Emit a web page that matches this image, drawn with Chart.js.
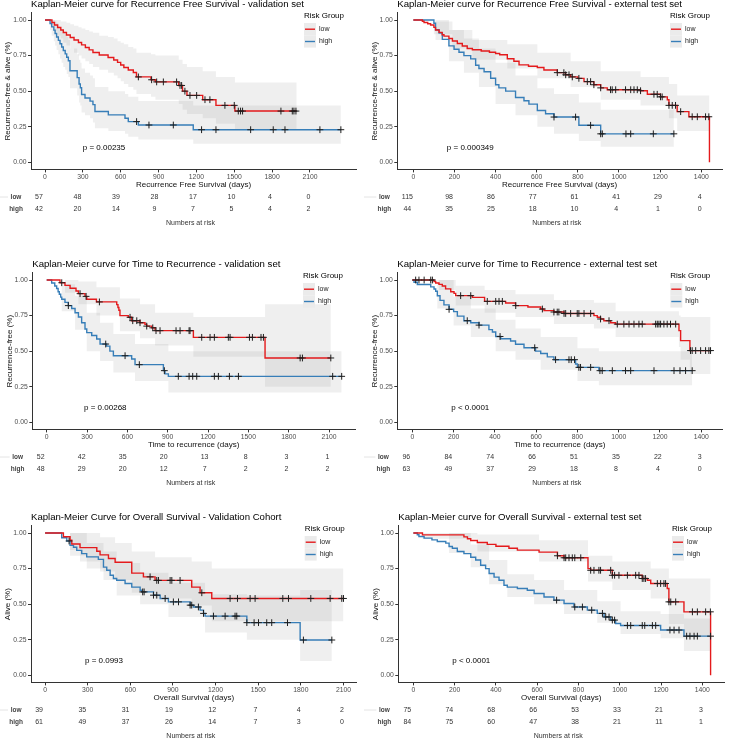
<!DOCTYPE html>
<html><head><meta charset="utf-8">
<script src="https://cdn.jsdelivr.net/npm/chart.js@4.4.1/dist/chart.umd.min.js"></script>
<style>
html,body{margin:0;padding:0;background:#fff;}
body{width:729px;height:740px;position:relative;overflow:hidden;}
canvas{position:absolute;}
</style></head><body>
<script>
// ---------- tick labels ----------
const ticks2100 = [0,300,600,900,1200,1500,1800,2100];
const ticks1400 = [0,200,400,600,800,1000,1200,1400];
const yTicks = [0,0.25,0.5,0.75,1];
const groups = ['low','high'];

// ---------- Panel 1: RFS validation ----------
const p1LowT = [0,55,75,100,125,145,170,200,230,265,290,320,350,380,430,500,545,575,600,625,660,700,725,840,875,1060,1090,1125,1250,1355,1505,1995];
const p1LowS = [1,.982,.965,.947,.93,.912,.895,.877,.86,.842,.825,.807,.79,.772,.754,.737,.719,.702,.684,.666,.649,.631,.60,.58,.565,.54,.50,.47,.44,.40,.36,.36];
const p1LowU = [1,1,1,1,.99,.99,.98,.97,.96,.95,.94,.93,.92,.91,.89,.88,.87,.85,.84,.83,.81,.80,.77,.76,.75,.72,.69,.67,.64,.60,.56,.56];
const p1LowL = [1,.95,.92,.89,.87,.84,.82,.80,.77,.75,.73,.71,.69,.67,.65,.63,.61,.59,.57,.55,.53,.51,.48,.46,.44,.41,.37,.34,.31,.27,.23,.23];
const p1LowC = [740,845,885,938,1043,1070,1083,1109,1149,1202,1268,1307,1426,1500,1532,1550,1566,1870,1960,1973,1989];
const p1HighT = [0,40,53,70,80,92,106,119,132,145,160,172,185,198,255,270,280,290,317,357,380,396,502,634,660,740,1175,2345];
const p1HighS = [1,.976,.952,.929,.905,.881,.857,.833,.81,.786,.762,.738,.714,.643,.595,.55,.524,.476,.452,.43,.405,.357,.333,.31,.286,.262,.229,.229];
const p1HighU = [1,1,1,1,.99,.98,.96,.95,.93,.92,.90,.88,.86,.80,.76,.72,.70,.66,.63,.61,.59,.53,.50,.48,.46,.43,.40,.40];
const p1HighL = [1,.93,.89,.85,.82,.79,.76,.73,.70,.67,.65,.62,.60,.52,.47,.42,.40,.35,.33,.31,.28,.24,.22,.20,.18,.16,.13,.13];
const p1HighC = [726,824,1017,1241,1355,1630,1809,1902,2179,2345];
const p1RiskLow = [57,48,39,28,17,10,4,0];
const p1RiskHigh = [42,20,14,9,7,5,4,2];

// ---------- Panel 2: RFS external ----------
const p2LowT = [0,44,52,70,84,100,108,125,140,149,173,190,214,238,262,287,330,370,400,420,457,489,514,560,603,635,700,740,765,800,830,878,911,943,1105,1138,1202,1235,1243,1283,1340,1440];
const p2LowS = [1,.991,.983,.974,.965,.948,.93,.913,.896,.887,.87,.852,.835,.817,.80,.791,.782,.773,.765,.756,.728,.71,.685,.675,.666,.649,.63,.615,.60,.59,.567,.545,.523,.51,.503,.478,.46,.44,.40,.356,.32,0];
const p2LowBT = [0,100,190,287,457,603,765,911,1105,1243,1283,1440];
const p2LowBU = [1,.99,.93,.86,.83,.77,.71,.64,.60,.55,.47,.47];
const p2LowBL = [1,.90,.80,.72,.66,.59,.53,.44,.40,.31,.22,.22];
const p2LowC = [700,732,741,757,773,805,846,862,878,911,959,967,984,1032,1057,1073,1089,1105,1170,1186,1202,1210,1243,1259,1275,1300,1356,1381,1421,1437];
const p2HighT = [0,100,108,125,141,173,198,222,246,279,303,319,344,376,400,416,449,497,538,562,603,643,684,805,911,1267];
const p2HighS = [1,.977,.932,.909,.864,.818,.795,.773,.75,.727,.682,.659,.636,.591,.545,.523,.50,.455,.432,.409,.364,.341,.318,.26,.20,.20];
const p2HighBT = [0,108,173,246,319,400,497,603,684,805,911,1267];
const p2HighBU = [1,1,.93,.87,.80,.70,.61,.52,.48,.42,.37,.37];
const p2HighBL = [1,.86,.71,.63,.53,.41,.33,.25,.20,.15,.11,.11];
const p2HighC = [684,789,862,911,919,1034,1057,1167,1267];
const p2RiskLow = [115,98,86,77,61,41,29,4];
const p2RiskHigh = [44,35,25,18,10,4,1,0];

// ---------- Panel 3: TTR validation ----------
const p3LowT = [0,99,136,174,218,236,285,298,370,521,530,537,545,607,632,694,731,744,781,806,1091,1624,2113];
const p3LowS = [1,.981,.962,.942,.923,.904,.885,.865,.846,.827,.807,.788,.75,.738,.714,.70,.688,.676,.664,.644,.597,.452,.452];
const p3LowBT = [0,136,236,370,545,694,806,1091,1624,2113];
const p3LowBU = [1,1,.99,.95,.87,.83,.77,.74,.83,.83];
const p3LowBL = [1,.91,.83,.75,.64,.59,.54,.46,.25,.25];
const p3LowC = [112,248,293,392,620,640,670,694,744,789,813,843,962,992,1059,1066,1153,1215,1247,1351,1364,1508,1530,1594,1612,1885,1902,2113];
const p3HighT = [0,37,60,74,85,94,104,112,136,161,186,211,236,260,285,298,335,372,397,446,470,496,632,657,868,880,905,2194];
const p3HighS = [1,.979,.958,.94,.917,.90,.88,.865,.843,.82,.80,.77,.74,.70,.656,.63,.61,.585,.55,.535,.50,.468,.445,.405,.363,.34,.323,.323];
const p3HighBT = [0,112,211,298,397,496,657,905,2194];
const p3HighBU = [1,.97,.89,.77,.70,.62,.55,.50,.50];
const p3HighBL = [1,.78,.65,.50,.43,.35,.29,.21,.21];
const p3HighC = [161,439,583,689,875,979,1059,1086,1116,1247,1277,1359,1426,2127,2194];
const p3RiskLow = [52,42,35,20,13,8,3,1];
const p3RiskHigh = [48,29,20,12,7,2,2,2];

// ---------- Panel 4: TTR external ----------
const p4LowT = [0,105,113,129,145,161,186,202,210,291,350,452,500,560,622,638,686,735,880,896,912,928,961,985,1292,1300,1345,1445];
const p4LowS = [1,.99,.979,.969,.958,.938,.917,.906,.89,.878,.85,.838,.82,.81,.796,.785,.775,.765,.75,.738,.726,.714,.70,.69,.644,.574,.504,.504];
const p4LowBT = [0,129,210,350,500,686,880,985,1292,1300,1345,1445];
const p4LowBU = [1,1,.96,.93,.90,.86,.84,.78,.75,.74,.74,.74];
const p4LowBL = [1,.93,.82,.77,.74,.69,.66,.60,.53,.44,.34,.34];
const p4LowC = [16,32,57,89,97,234,283,363,404,420,436,501,630,686,702,710,735,743,767,799,807,832,864,912,953,993,1025,1050,1074,1098,1114,1179,1187,1195,1203,1219,1235,1251,1276,1348,1356,1373,1397,1421,1437,1445];
const p4HighT = [0,8,24,89,105,113,121,134,153,178,200,218,250,283,323,371,388,404,428,476,500,541,597,622,654,686,791,800,904,1356];
const p4HighS = [1,.984,.968,.952,.937,.921,.889,.857,.825,.794,.778,.746,.714,.70,.683,.651,.635,.603,.587,.571,.548,.524,.50,.484,.46,.44,.41,.386,.363,.363];
const p4HighBT = [0,121,200,283,404,500,622,800,904,1356];
const p4HighBU = [1,1,.88,.80,.72,.66,.60,.52,.50,.50];
const p4HighBL = [1,.80,.68,.60,.50,.44,.37,.29,.26,.26];
const p4HighC = [178,266,323,425,593,694,759,770,786,807,815,864,909,920,969,1033,1058,1171,1268,1297,1324,1356];
const p4RiskLow = [96,84,74,66,51,35,22,3];
const p4RiskHigh = [63,49,37,29,18,8,4,0];

// ---------- Panel 5: OS validation ----------
const p5LowT = [0,129,176,188,246,364,387,446,493,610,692,774,1032,1091,1173,2100];
const p5LowS = [1,.974,.949,.923,.897,.872,.846,.821,.795,.718,.692,.667,.62,.58,.54,.54];
const p5LowBT = [0,176,246,387,493,610,774,1032,1173,2100];
const p5LowBU = [1,1,1,.97,.93,.87,.83,.80,.75,.75];
const p5LowBL = [1,.88,.80,.73,.67,.58,.54,.49,.38,.38];
const p5LowC = [739,786,798,880,892,950,1103,1302,1354,1443,1478,1673,1713,1870,2006,2088,2100];
const p5HighT = [0,117,153,176,200,223,258,293,375,411,434,458,481,504,563,610,669,680,763,810,868,1021,1044,1091,1115,1126,1420,1795,2018];
const p5HighS = [1,.967,.944,.913,.90,.878,.855,.832,.815,.76,.738,.703,.68,.668,.645,.62,.598,.586,.563,.54,.516,.493,.48,.458,.435,.416,.37,.248,.248];
const p5HighBT = [0,176,293,411,504,669,868,1126,1420,1795,2018];
const p5HighBU = [1,1,.93,.87,.79,.72,.65,.57,.56,.60,.60];
const p5HighBL = [1,.84,.75,.67,.56,.50,.41,.30,.25,.10,.10];
const p5HighC = [169,687,697,763,786,845,903,939,1021,1032,1079,1115,1185,1267,1337,1349,1420,1471,1502,1560,1595,1706,1818,2018];
const p5RiskLow = [39,35,31,19,12,7,4,2];
const p5RiskHigh = [61,49,37,26,14,7,3,0];

// ---------- Panel 6: OS external ----------
const p6LowT = [0,44,245,262,278,310,358,400,463,504,609,698,730,846,859,964,1109,1134,1150,1230,1238,1311,1440];
const p6LowS = [1,.987,.973,.96,.947,.933,.92,.907,.893,.88,.866,.84,.826,.75,.738,.703,.68,.668,.645,.61,.516,.446,0];
const p6LowBT = [0,44,310,609,846,964,1150,1238,1311,1440];
const p6LowBU = [1,1,.99,.95,.84,.80,.75,.68,.68,.68];
const p6LowBL = [1,.96,.87,.80,.66,.60,.54,.36,.27,.27];
const p6LowC = [698,730,738,754,770,782,811,859,875,899,907,956,964,975,996,1037,1077,1093,1109,1117,1125,1182,1198,1214,1222,1238,1247,1271,1352,1376,1416,1439];
const p6HighT = [0,19,27,52,90,116,157,173,189,213,245,278,302,326,350,367,391,415,439,455,504,552,585,633,681,730,778,843,891,924,956,980,1004,1198,1311,1440];
const p6HighS = [1,.988,.976,.964,.952,.94,.929,.905,.893,.87,.855,.83,.81,.773,.75,.715,.69,.668,.633,.62,.61,.598,.575,.55,.528,.505,.48,.458,.435,.41,.388,.364,.35,.318,.275,.275];
const p6HighBT = [0,173,278,367,455,585,730,891,1004,1198,1311,1440];
const p6HighBU = [1,1,.92,.81,.71,.67,.60,.52,.45,.43,.40,.40];
const p6HighBL = [1,.86,.76,.64,.55,.50,.43,.37,.29,.26,.17,.17];
const p6HighC = [694,782,819,864,916,932,948,964,975,1037,1053,1109,1121,1158,1174,1243,1263,1287,1324,1340,1360,1376,1440];
const p6RiskLow = [75,74,68,66,53,33,21,3];
const p6RiskHigh = [84,75,60,47,38,21,11,1];

// ---------- styling / layout ----------
const FONT = '"Liberation Sans", Arial, Helvetica, sans-serif';
const RED = '#E41A1C', BLUE = '#377EB8';
const BAND = 'rgba(128,128,128,0.13)';
const KEYFILL = '#ebebeb';
const H = 245;

const panels = [
 {left:0, top:-10, W:364, axL:31, axR:356, xmin:-111, xmax:2465, ticks:ticks2100,
  title:'Kaplan-Meier curve for Recurrence Free Survival - validation set', ylab:'Recurrence-free & alive (%)', xlab:'Recurrence Free Survival (days)', pval:'p = 0.00235',
  low:{t:p1LowT,s:p1LowS,bt:p1LowT,bu:p1LowU,bl:p1LowL,c:p1LowC}, high:{t:p1HighT,s:p1HighS,bt:p1HighT,bu:p1HighU,bl:p1HighL,c:p1HighC}, rl:p1RiskLow, rh:p1RiskHigh},
 {left:364, top:-10, W:365, axL:33.3, axR:358, xmin:-78, xmax:1501, ticks:ticks1400,
  title:'Kaplan-Meier curve for Recurrence Free Survival - external test set', ylab:'Recurrence-free & alive (%)', xlab:'Recurrence Free Survival (days)', pval:'p = 0.000349',
  low:{t:p2LowT,s:p2LowS,bt:p2LowBT,bu:p2LowBU,bl:p2LowBL,c:p2LowC}, high:{t:p2HighT,s:p2HighS,bt:p2HighBT,bu:p2HighBU,bl:p2HighBL,c:p2HighC}, rl:p2RiskLow, rh:p2RiskHigh},
 {left:0, top:249.5, W:364, axL:32.3, axR:355, xmin:-107, xmax:2293, ticks:ticks2100,
  title:'Kaplan-Meier curve for Time to Recurrence - validation set', ylab:'Recurrence-free (%)', xlab:'Time to recurrence (days)', pval:'p = 0.00268',
  low:{t:p3LowT,s:p3LowS,bt:p3LowBT,bu:p3LowBU,bl:p3LowBL,c:p3LowC}, high:{t:p3HighT,s:p3HighS,bt:p3HighBT,bu:p3HighBU,bl:p3HighBL,c:p3HighC}, rl:p3RiskLow, rh:p3RiskHigh},
 {left:364, top:249.5, W:365, axL:33.3, axR:358.3, xmin:-73, xmax:1502, ticks:ticks1400,
  title:'Kaplan-Meier curve for Time to Recurrence - external test set', ylab:'Recurrence-free (%)', xlab:'Time to recurrence (days)', pval:'p < 0.0001',
  low:{t:p4LowT,s:p4LowS,bt:p4LowBT,bu:p4LowBU,bl:p4LowBL,c:p4LowC}, high:{t:p4HighT,s:p4HighS,bt:p4HighBT,bu:p4HighBU,bl:p4HighBL,c:p4HighC}, rl:p4RiskLow, rh:p4RiskHigh},
 {left:0, top:502.7, W:364, axL:31, axR:356.7, xmin:-99, xmax:2193, ticks:ticks2100,
  title:'Kaplan-Meier Curve for Overall Survival - Validation Cohort', ylab:'Alive (%)', xlab:'Overall Survival (days)', pval:'p = 0.0993',
  low:{t:p5LowT,s:p5LowS,bt:p5LowBT,bu:p5LowBU,bl:p5LowBL,c:p5LowC}, high:{t:p5HighT,s:p5HighS,bt:p5HighBT,bu:p5HighBU,bl:p5HighBL,c:p5HighC}, rl:p5RiskLow, rh:p5RiskHigh},
 {left:364, top:502.7, W:365, axL:34.3, axR:360, xmin:-73, xmax:1505, ticks:ticks1400,
  title:'Kaplan-Meier curve for Overall Survival - external test set', ylab:'Alive (%)', xlab:'Overall Survival (days)', pval:'p < 0.0001',
  low:{t:p6LowT,s:p6LowS,bt:p6LowBT,bu:p6LowBU,bl:p6LowBL,c:p6LowC}, high:{t:p6HighT,s:p6HighS,bt:p6HighBT,bu:p6HighBU,bl:p6HighBL,c:p6HighC}, rl:p6RiskLow, rh:p6RiskHigh}
];

function pts(T, V){ const n = Math.min(T.length, V.length); const out=[]; for(let i=0;i<n;i++) out.push({x:T[i], y:V[i]}); return out; }
function stepAt(T, S, t){ let v = S[0]; for(let i=0;i<T.length;i++){ if(T[i] <= t) v = S[i]; else break; } return v; }

const decor = {
  id: 'decor',
  afterDraw(chart, args, o){
    const ctx = chart.ctx, ca = chart.chartArea, xs = chart.scales.x, ys = chart.scales.y;
    ctx.save();
    ctx.textBaseline = 'middle';
    // title
    ctx.fillStyle = '#000'; ctx.textAlign = 'left';
    ctx.font = '9.6px ' + FONT;
    ctx.fillText(o.title, ca.left, 14.5);
    // axis titles
    ctx.font = '8px ' + FONT; ctx.textAlign = 'center'; ctx.fillStyle = '#111';
    ctx.fillText(o.xlab, (ca.left + ca.right) / 2, 194.5);
    ctx.save();
    ctx.translate(ca.left - 23, (ca.top + ca.bottom) / 2);
    ctx.rotate(-Math.PI / 2);
    ctx.fillText(o.ylab, 0, 0);
    ctx.restore();
    // p-value
    ctx.font = '8px ' + FONT; ctx.fillStyle = '#000';
    ctx.fillText(o.pval, ca.left + 73, ys.getPixelForValue(0.1));
    // legend
    const lx = ca.right - 52;
    ctx.textAlign = 'left';
    ctx.font = '8px ' + FONT;
    ctx.fillText('Risk Group', lx, 25.5);
    ctx.fillStyle = KEYFILL;
    ctx.fillRect(lx, 33, 12, 12.3);
    ctx.fillRect(lx, 45.3, 12, 12.3);
    ctx.lineWidth = 1.4;
    [[RED, 39.2, groups[0]], [BLUE, 51.5, groups[1]]].forEach(([col, y, lab]) => {
      ctx.strokeStyle = col; ctx.beginPath(); ctx.moveTo(lx + 1, y); ctx.lineTo(lx + 11, y); ctx.stroke();
      ctx.fillStyle = '#222'; ctx.font = '7px ' + FONT; ctx.fillText(lab, lx + 15, y);
    });
    // risk table
    const tmax = o.ticks[o.ticks.length - 1];
    const rx = t => xs.getPixelForValue(t) - 6 + 4.5 * t / tmax;
    ctx.textAlign = 'center';
    ctx.font = '7px ' + FONT; ctx.fillStyle = '#333';
    o.ticks.forEach((t, i) => {
      ctx.fillText(String(o.rl[i]), rx(t), 207);
      ctx.fillText(String(o.rh[i]), rx(t), 219.5);
    });
    const labX = rx(0) - 23;
    ctx.font = 'bold 6.5px ' + FONT; ctx.fillStyle = '#444';
    ctx.fillText(groups[0], labX, 207);
    ctx.fillText(groups[1], labX, 219.5);
    ctx.strokeStyle = '#e4e4e4'; ctx.lineWidth = 1;
    ctx.beginPath(); ctx.moveTo(0, 207); ctx.lineTo(labX - 8, 207); ctx.stroke();
    ctx.font = '7px ' + FONT; ctx.fillStyle = '#333';
    ctx.fillText('Numbers at risk', (ca.left + ca.right) / 2 - 3, 233.3);
    ctx.restore();
  }
};

panels.forEach(p => {
  const c = document.createElement('canvas');
  c.width = p.W; c.height = H;
  c.style.left = p.left + 'px'; c.style.top = p.top + 'px';
  c.style.width = p.W + 'px'; c.style.height = H + 'px';
  document.body.appendChild(c);
  const ds = [];
  [p.low, p.high].forEach(g => {
    ds.push({data: pts(g.bt, g.bu), stepped: true, borderWidth: 0, borderColor: 'rgba(0,0,0,0)', pointRadius: 0, fill: '+1', backgroundColor: BAND, order: 3});
    ds.push({data: pts(g.bt, g.bl), stepped: true, borderWidth: 0, borderColor: 'rgba(0,0,0,0)', pointRadius: 0, fill: false, order: 3});
  });
  [[p.low, RED], [p.high, BLUE]].forEach(([g, col]) => {
    ds.push({data: pts(g.t, g.s), stepped: true, borderColor: col, borderWidth: 1.4, pointRadius: 0, fill: false, order: 2});
  });
  [p.low, p.high].forEach(g => {
    ds.push({data: g.c.map(t => ({x: t, y: stepAt(g.t, g.s, t)})), showLine: false, pointStyle: 'cross', pointRadius: 3.4,
      pointBorderColor: '#1e1e1e', pointBorderWidth: 1, pointBackgroundColor: '#1e1e1e', order: 1});
  });
  new Chart(c, {
    type: 'line',
    data: {datasets: ds},
    options: {
      responsive: false, animation: false, devicePixelRatio: 1,
      layout: {padding: {left: p.axL - 25, right: p.W - p.axR, top: 22.9, bottom: H - 179.4 - 20}},
      plugins: {legend: {display: false}, tooltip: {enabled: false},
        decor: {title: p.title, xlab: p.xlab, ylab: p.ylab, pval: p.pval, ticks: p.ticks, rl: p.rl, rh: p.rh}},
      scales: {
        x: {type: 'linear', min: p.xmin, max: p.xmax,
          afterBuildTicks: s => { s.ticks = p.ticks.map(v => ({value: v})); },
          afterFit: s => { s.height = 20; },
          grid: {display: true, drawOnChartArea: false, drawTicks: true, tickLength: 3, color: '#333'},
          border: {display: true, color: '#333', width: 1},
          ticks: {color: '#4d4d4d', font: {size: 6.8, family: FONT}, padding: 1, maxRotation: 0, autoSkip: false, callback: v => String(v)}},
        y: {type: 'linear', min: -0.05, max: 1.05,
          afterBuildTicks: s => { s.ticks = yTicks.map(v => ({value: v})); },
          afterFit: s => { s.width = 25; },
          grid: {display: true, drawOnChartArea: false, drawTicks: true, tickLength: 3, color: '#333'},
          border: {display: true, color: '#333', width: 1},
          ticks: {color: '#4d4d4d', font: {size: 6.8, family: FONT}, padding: 1.5, callback: v => Number(v).toFixed(2)}}
      }
    },
    plugins: [decor]
  });
});
</script>
</body></html>
